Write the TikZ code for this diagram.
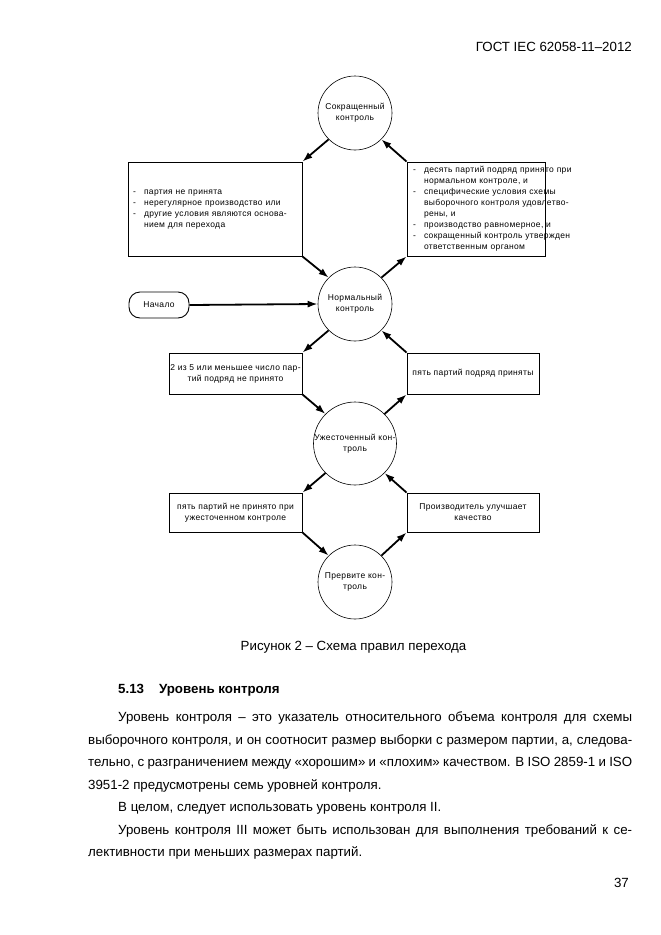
\documentclass[tikz,border=0pt]{standalone}
\usepackage{fontspec}
\setmainfont{Liberation Sans}
\newfontfamily\schfont[LetterSpace=4]{Liberation Sans}
\usetikzlibrary{arrows.meta}

\newcommand\lidash{\makebox[11pt][l]{-}}
\newcommand\lirest{\hspace*{11pt}}

\begin{document}
\begin{tikzpicture}[x=1pt,y=-1pt,
	ring/.style={circle,draw,line width=0.6pt,minimum size=74pt,inner sep=0pt,align=center,
		font=\schfont\fontsize{8.5}{11}\selectfont},
	rulebox/.style={draw,line width=0.9pt,inner sep=0pt,align=center,
		font=\schfont\fontsize{8.5}{11}\selectfont},
	go/.style={-{Latex[length=10pt,width=7pt]},line width=1.8pt},
	txt/.style={inner sep=0pt,font=\fontsize{13.3}{22.5}\selectfont}]
	\useasboundingbox[fill=white] (0,0) rectangle (661,935);

	\node[txt,anchor=base east] (hd) at (632,51.5) {ГОСТ IEC 62058-11–2012};

	% control states
	\node[ring] (c1) at (355,113) {Сокращенный\\контроль};
	\node[ring] (c2) at (355,304) {Нормальный\\контроль};
	\node[ring] (c3) at (355,443.5) {Ужесточенный кон-\\троль};
	\node[ring] (c4) at (355,582) {Прервите кон-\\троль};
	\node[rulebox,rounded corners=11pt,minimum width=60pt,minimum height=26pt] (s0) at (159,305) {Начало};

	% switching rules
	\node[rulebox,minimum width=174pt,minimum height=94pt,text width=164pt,align=left] (b1) at (215,209) {%
		\begin{tabular}{@{}l@{}}
		\lidash партия не принята\\
		\lidash нерегулярное производство или\\
		\lidash другие условия являются основа-\\
		\lirest нием для перехода
		\end{tabular}\\[6pt]};
	\node[rulebox,minimum width=138pt,minimum height=94pt,text width=126pt,align=left] (b2) at (476,209) {%
		\begin{tabular}{@{}l@{}}
		\lidash десять партий подряд принято при\\
		\lirest нормальном контроле, и\\
		\lidash специфические условия схемы\\
		\lirest выборочного контроля удовлетво-\\
		\lirest рены, и\\
		\lidash производство равномерное, и\\
		\lidash сокращенный контроль утвержден\\
		\lirest ответственным органом
		\end{tabular}};
	\node[rulebox,minimum width=133pt,minimum height=41pt] (b3) at (235.5,373.5) {2 из 5 или меньшее число пар-\\тий подряд не принято};
	\node[rulebox,minimum width=132pt,minimum height=41pt] (b4) at (473,373.5) {пять партий подряд приняты};
	\node[rulebox,minimum width=133pt,minimum height=39pt] (b5) at (235.5,512.5) {пять партий не принято при\\ужесточенном контроле};
	\node[rulebox,minimum width=132pt,minimum height=39pt] (b6) at (473,512.5) {Производитель улучшает\\качество};

	\draw[go] (c1.south west) -- (b1.north east);
	\draw[go] (b2.north west) -- (c1.south east);
	\draw[go] (b1.south east) -- (c2.north west);
	\draw[go] (c2.north east) -- (b2.south west);
	\draw[go] (s0.east) -- (c2.west);
	\draw[go] (c2.south west) -- (b3.north east);
	\draw[go] (b4.north west) -- (c2.south east);
	\draw[go] (b3.south east) -- (c3.north west);
	\draw[go] (c3.north east) -- (b4.south west);
	\draw[go] (c3.south west) -- (b5.north east);
	\draw[go] (b6.north west) -- (c3.south east);
	\draw[go] (b5.south east) -- (c4.north west);
	\draw[go] (c4.north east) -- (b6.south west);

	\node[txt,anchor=base] (cap) at (353.5,650.5) {Рисунок 2 – Схема правил перехода};

	% text below the figure
	\node[txt,anchor=base west] (sec) at (118,693.5) {\bfseries 5.13\hspace{15pt}Уровень контроля};
	\node[txt,align=left,anchor=north west] (par) at (88,712) {%
		\hspace*{30pt}\makebox[514pt][s]{Уровень контроля – это указатель относительного объема контроля для схемы}\\
		\makebox[544pt][s]{выборочного контроля, и он соотносит размер выборки с размером партии, а, следова-}\\
		\makebox[544pt][s]{тельно, с разграничением между «хорошим» и «плохим» качеством. В ISO 2859-1 и ISO}\\
		3951-2 предусмотрены семь уровней контроля.\\
		\hspace*{30pt}В целом, следует использовать уровень контроля II.\\
		\hspace*{30pt}\makebox[514pt][s]{Уровень контроля III может быть использован для выполнения требований к се-}\\
		лективности при меньших размерах партий.};
	\node[txt,anchor=base east] (pg) at (629,887.5) {37};
\end{tikzpicture}
\end{document}
